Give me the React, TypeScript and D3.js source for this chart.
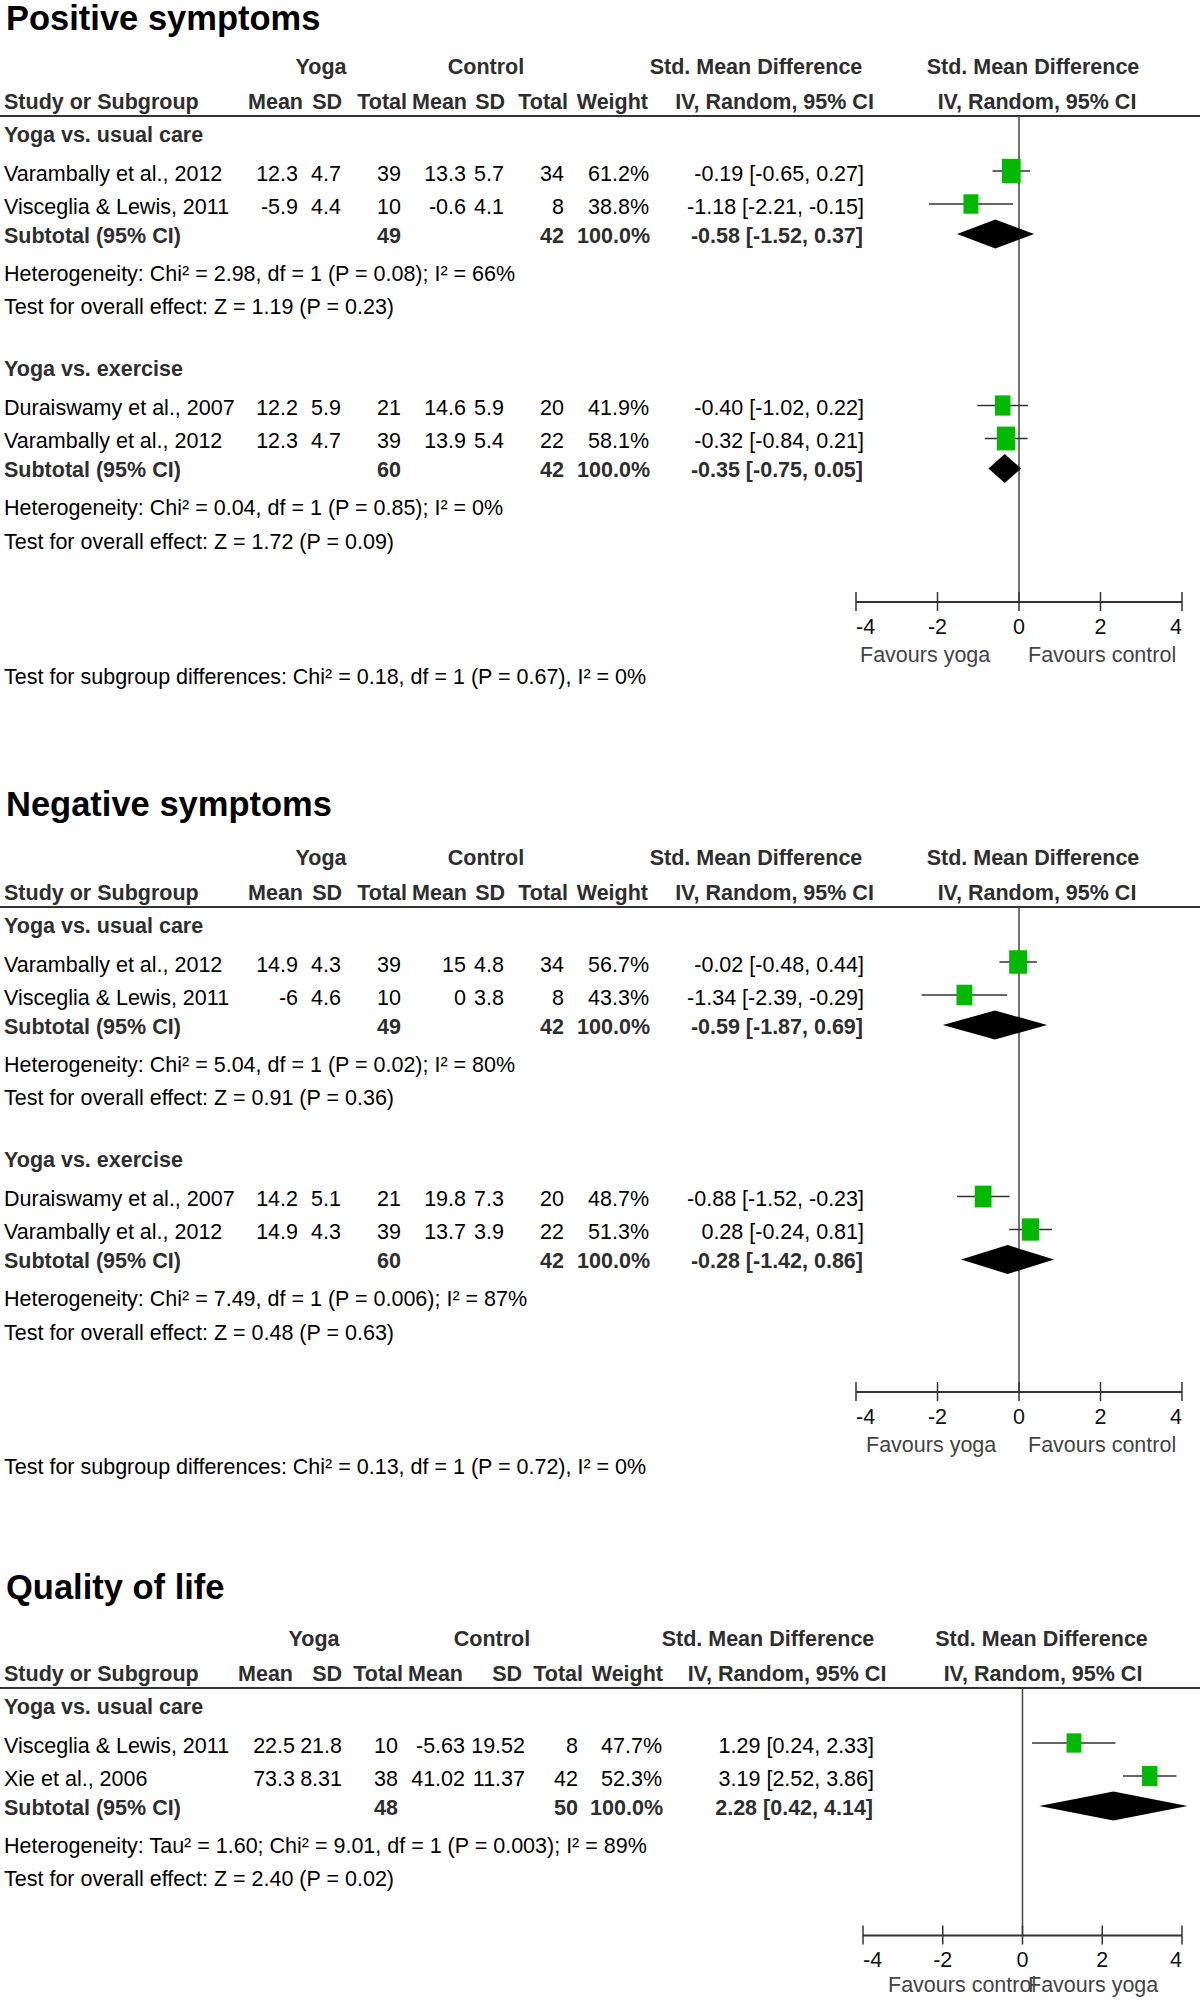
import React from "react";
import * as d3 from "d3";

type Study = { study: string; yMean: number; ySD: number; yN: number; cMean: number; cSD: number; cN: number; weight: number; smd: number; lo: number; hi: number };
type Subtotal = { yN: number; cN: number; weight: number; smd: number; lo: number; hi: number };

// ---------- DATA ----------
const positiveUsualCare: Study[] = [
  { study: "Varambally et al., 2012", yMean: 12.3, ySD: 4.7, yN: 39, cMean: 13.3, cSD: 5.7, cN: 34, weight: 61.2, smd: -0.19, lo: -0.65, hi: 0.27 },
  { study: "Visceglia & Lewis, 2011", yMean: -5.9, ySD: 4.4, yN: 10, cMean: -0.6, cSD: 4.1, cN: 8, weight: 38.8, smd: -1.18, lo: -2.21, hi: -0.15 },
];
const positiveUsualCareTotal: Subtotal = { yN: 49, cN: 42, weight: 100, smd: -0.58, lo: -1.52, hi: 0.37 };
const positiveUsualCareStats = ["Heterogeneity: Chi² = 2.98, df = 1 (P = 0.08); I² = 66%", "Test for overall effect: Z = 1.19 (P = 0.23)"];

const positiveExercise: Study[] = [
  { study: "Duraiswamy et al., 2007", yMean: 12.2, ySD: 5.9, yN: 21, cMean: 14.6, cSD: 5.9, cN: 20, weight: 41.9, smd: -0.40, lo: -1.02, hi: 0.22 },
  { study: "Varambally et al., 2012", yMean: 12.3, ySD: 4.7, yN: 39, cMean: 13.9, cSD: 5.4, cN: 22, weight: 58.1, smd: -0.32, lo: -0.84, hi: 0.21 },
];
const positiveExerciseTotal: Subtotal = { yN: 60, cN: 42, weight: 100, smd: -0.35, lo: -0.75, hi: 0.05 };
const positiveExerciseStats = ["Heterogeneity: Chi² = 0.04, df = 1 (P = 0.85); I² = 0%", "Test for overall effect: Z = 1.72 (P = 0.09)"];
const positiveSubgroupTest = "Test for subgroup differences: Chi² = 0.18, df = 1 (P = 0.67), I² = 0%";

const negativeUsualCare: Study[] = [
  { study: "Varambally et al., 2012", yMean: 14.9, ySD: 4.3, yN: 39, cMean: 15, cSD: 4.8, cN: 34, weight: 56.7, smd: -0.02, lo: -0.48, hi: 0.44 },
  { study: "Visceglia & Lewis, 2011", yMean: -6, ySD: 4.6, yN: 10, cMean: 0, cSD: 3.8, cN: 8, weight: 43.3, smd: -1.34, lo: -2.39, hi: -0.29 },
];
const negativeUsualCareTotal: Subtotal = { yN: 49, cN: 42, weight: 100, smd: -0.59, lo: -1.87, hi: 0.69 };
const negativeUsualCareStats = ["Heterogeneity: Chi² = 5.04, df = 1 (P = 0.02); I² = 80%", "Test for overall effect: Z = 0.91 (P = 0.36)"];

const negativeExercise: Study[] = [
  { study: "Duraiswamy et al., 2007", yMean: 14.2, ySD: 5.1, yN: 21, cMean: 19.8, cSD: 7.3, cN: 20, weight: 48.7, smd: -0.88, lo: -1.52, hi: -0.23 },
  { study: "Varambally et al., 2012", yMean: 14.9, ySD: 4.3, yN: 39, cMean: 13.7, cSD: 3.9, cN: 22, weight: 51.3, smd: 0.28, lo: -0.24, hi: 0.81 },
];
const negativeExerciseTotal: Subtotal = { yN: 60, cN: 42, weight: 100, smd: -0.28, lo: -1.42, hi: 0.86 };
const negativeExerciseStats = ["Heterogeneity: Chi² = 7.49, df = 1 (P = 0.006); I² = 87%", "Test for overall effect: Z = 0.48 (P = 0.63)"];
const negativeSubgroupTest = "Test for subgroup differences: Chi² = 0.13, df = 1 (P = 0.72), I² = 0%";

const qolUsualCare: Study[] = [
  { study: "Visceglia & Lewis, 2011", yMean: 22.5, ySD: 21.8, yN: 10, cMean: -5.63, cSD: 19.52, cN: 8, weight: 47.7, smd: 1.29, lo: 0.24, hi: 2.33 },
  { study: "Xie et al., 2006", yMean: 73.3, ySD: 8.31, yN: 38, cMean: 41.02, cSD: 11.37, cN: 42, weight: 52.3, smd: 3.19, lo: 2.52, hi: 3.86 },
];
const qolUsualCareTotal: Subtotal = { yN: 48, cN: 50, weight: 100, smd: 2.28, lo: 0.42, hi: 4.14 };
const qolUsualCareStats = ["Heterogeneity: Tau² = 1.60; Chi² = 9.01, df = 1 (P = 0.003); I² = 89%", "Test for overall effect: Z = 2.40 (P = 0.02)"];

const axisTicks = [-4, -2, 0, 2, 4];
const axisDomain = [-4, 4];
const favoursPosNeg = ["Favours yoga", "Favours control"];
const favoursQol = ["Favours control", "Favours yoga"];

// ---------- LAYOUT / STYLE ----------
const FONT = "'Liberation Sans', Arial, Helvetica, sans-serif";
const FS = 21.5;
const BOLD_C = "#2e2e2e";
const GREEN = "#00b900";

const colsA = { mean1: 298, sd1: 341, n1: 401, mean2: 466, sd2: 504, n2: 564, weight: 649, ci: 864 };
const headA = { yoga: 321, control: 486, mean1: 303, sd1: 342, n1: 407, mean2: 467, sd2: 505, n2: 568, weight: 648, smd1: 756, iv1: 774.5, smd2: 1033, iv2: 1037 };
const colsB = { mean1: 295, sd1: 342, n1: 398, mean2: 465, sd2: 525, n2: 578, weight: 662, ci: 874 };
const headB = { yoga: 314, control: 492, mean1: 293, sd1: 342, n1: 403, mean2: 463, sd2: 522, n2: 583, weight: 663, smd1: 768, iv1: 787, smd2: 1041.5, iv2: 1043 };

type Group = { label: string; studies: Study[]; total: Subtotal; stats: string[] };
type Panel = {
  title: string; top: number; titleDy: number; axisGap: number; favDy: number;
  groups: Group[]; subgroupTest?: string; favours: string[];
  cols: typeof colsA; head: typeof headA; xRange: [number, number]; favX: [number, number]; sqK: number;
};

const panels: Panel[] = [
  {
    title: "Positive symptoms", top: 0, titleDy: 18, axisGap: 61, favDy: 52,
    groups: [
      { label: "Yoga vs. usual care", studies: positiveUsualCare, total: positiveUsualCareTotal, stats: positiveUsualCareStats },
      { label: "Yoga vs. exercise", studies: positiveExercise, total: positiveExerciseTotal, stats: positiveExerciseStats },
    ],
    subgroupTest: positiveSubgroupTest, favours: favoursPosNeg,
    cols: colsA, head: headA, xRange: [856, 1182], favX: [860, 1028], sqK: 2.4,
  },
  {
    title: "Negative symptoms", top: 791, titleDy: 13, axisGap: 60, favDy: 52,
    groups: [
      { label: "Yoga vs. usual care", studies: negativeUsualCare, total: negativeUsualCareTotal, stats: negativeUsualCareStats },
      { label: "Yoga vs. exercise", studies: negativeExercise, total: negativeExerciseTotal, stats: negativeExerciseStats },
    ],
    subgroupTest: negativeSubgroupTest, favours: favoursPosNeg,
    cols: colsA, head: headA, xRange: [856, 1182], favX: [866, 1028], sqK: 2.4,
  },
  {
    title: "Quality of life", top: 1572, titleDy: 15, axisGap: 57, favDy: 49,
    groups: [
      { label: "Yoga vs. usual care", studies: qolUsualCare, total: qolUsualCareTotal, stats: qolUsualCareStats },
    ],
    favours: favoursQol,
    cols: colsB, head: headB, xRange: [863, 1182], favX: [888, 1028], sqK: 2.15,
  },
];

function Txt(props: { x: number; y: number; anchor?: string; bold?: boolean; color?: string; size?: number; children: React.ReactNode }) {
  const { x, y, anchor = "start", bold = false, color, size = FS, children } = props;
  return (
    <text x={x} y={y + size * 0.35} textAnchor={anchor as any} fontWeight={bold ? "bold" : "normal"}
      fill={color ?? (bold ? BOLD_C : "#000")} fontSize={size} fontFamily={FONT}>
      {children}
    </text>
  );
}

function layout(p: Panel) {
  const line = p.top + 116;
  let cur = line;
  const groups = p.groups.map((g, gi) => {
    cur += gi === 0 ? 18 : 62;
    const labelY = cur;
    const studyYs = g.studies.map((_, i) => { cur += i === 0 ? 39 : 33; return cur; });
    cur += 29; const subY = cur;
    cur += 38; const hetY = cur;
    cur += 33.5; const testY = cur;
    return { labelY, studyYs, subY, hetY, testY };
  });
  const axis = cur + p.axisGap;
  return { line, groups, axis };
}

const f2 = (v: number) => v.toFixed(2);
const ciText = (d: { smd: number; lo: number; hi: number }) => `${f2(d.smd)} [${f2(d.lo)}, ${f2(d.hi)}]`;

function PanelView({ p }: { p: Panel }) {
  const L = layout(p);
  const x = d3.scaleLinear().domain(axisDomain).range(p.xRange);
  const c = p.cols, h = p.head;
  const t = p.top;
  return (
    <g>
      <Txt x={6} y={t + p.titleDy} bold color="#000" size={34.5}>{p.title}</Txt>
      <Txt x={h.yoga} y={t + 66} anchor="middle" bold>Yoga</Txt>
      <Txt x={h.control} y={t + 66} anchor="middle" bold>Control</Txt>
      <Txt x={h.smd1} y={t + 66} anchor="middle" bold>Std. Mean Difference</Txt>
      <Txt x={h.smd2} y={t + 66} anchor="middle" bold>Std. Mean Difference</Txt>
      <Txt x={4} y={t + 101} bold>Study or Subgroup</Txt>
      <Txt x={h.mean1} y={t + 101} anchor="end" bold>Mean</Txt>
      <Txt x={h.sd1} y={t + 101} anchor="end" bold>SD</Txt>
      <Txt x={h.n1} y={t + 101} anchor="end" bold>Total</Txt>
      <Txt x={h.mean2} y={t + 101} anchor="end" bold>Mean</Txt>
      <Txt x={h.sd2} y={t + 101} anchor="end" bold>SD</Txt>
      <Txt x={h.n2} y={t + 101} anchor="end" bold>Total</Txt>
      <Txt x={h.weight} y={t + 101} anchor="end" bold>Weight</Txt>
      <Txt x={h.iv1} y={t + 101} anchor="middle" bold>IV, Random, 95% CI</Txt>
      <Txt x={h.iv2} y={t + 101} anchor="middle" bold>IV, Random, 95% CI</Txt>
      <line x1={0} x2={1200} y1={L.line} y2={L.line} stroke="#333" strokeWidth={2} />
      <line x1={x(0)} x2={x(0)} y1={L.line} y2={L.axis} stroke="#444" strokeWidth={1.5} />

      {p.groups.map((g, gi) => {
        const G = L.groups[gi];
        return (
          <g key={gi}>
            <Txt x={4} y={G.labelY} bold>{g.label}</Txt>
            {g.studies.map((s, i) => {
              const y = G.studyYs[i];
              const w = p.sqK * Math.sqrt(s.weight);
              const hh = w * 1.3;
              const my = y - 2;
              return (
                <g key={i}>
                  <Txt x={4} y={y}>{s.study}</Txt>
                  <Txt x={c.mean1} y={y} anchor="end">{String(s.yMean)}</Txt>
                  <Txt x={c.sd1} y={y} anchor="end">{String(s.ySD)}</Txt>
                  <Txt x={c.n1} y={y} anchor="end">{String(s.yN)}</Txt>
                  <Txt x={c.mean2} y={y} anchor="end">{String(s.cMean)}</Txt>
                  <Txt x={c.sd2} y={y} anchor="end">{String(s.cSD)}</Txt>
                  <Txt x={c.n2} y={y} anchor="end">{String(s.cN)}</Txt>
                  <Txt x={c.weight} y={y} anchor="end">{s.weight.toFixed(1) + "%"}</Txt>
                  <Txt x={c.ci} y={y} anchor="end">{ciText(s)}</Txt>
                  <line x1={x(s.lo)} x2={x(s.hi)} y1={my} y2={my} stroke="#333" strokeWidth={1.5} />
                  <rect x={x(s.smd) - w / 2} y={my - hh / 2} width={w} height={hh} fill={GREEN} />
                </g>
              );
            })}
            <Txt x={4} y={G.subY} bold>Subtotal (95% CI)</Txt>
            <Txt x={c.n1} y={G.subY} anchor="end" bold>{String(g.total.yN)}</Txt>
            <Txt x={c.n2} y={G.subY} anchor="end" bold>{String(g.total.cN)}</Txt>
            <Txt x={c.weight + 1} y={G.subY} anchor="end" bold>{g.total.weight.toFixed(1) + "%"}</Txt>
            <Txt x={c.ci - 1} y={G.subY} anchor="end" bold>{ciText(g.total)}</Txt>
            <path
              d={d3.line()([
                [x(g.total.lo), G.subY - 1],
                [x(g.total.smd), G.subY - 15.5],
                [x(g.total.hi), G.subY - 1],
                [x(g.total.smd), G.subY + 13.5],
              ]) + "Z"}
              fill="#000"
            />
            <Txt x={4} y={G.hetY}>{g.stats[0]}</Txt>
            <Txt x={4} y={G.testY}>{g.stats[1]}</Txt>
          </g>
        );
      })}

      <line x1={x(axisDomain[0])} x2={x(axisDomain[1])} y1={L.axis} y2={L.axis} stroke="#333" strokeWidth={2} />
      {axisTicks.map((v, i) => (
        <g key={v}>
          <line x1={x(v)} x2={x(v)} y1={L.axis - 10} y2={L.axis + 9} stroke="#333" strokeWidth={1.5} />
          <Txt x={x(v)} y={L.axis + 24}
            anchor={i === 0 ? "start" : i === axisTicks.length - 1 ? "end" : "middle"} color="#111">{String(v)}</Txt>
        </g>
      ))}
      <Txt x={p.favX[0]} y={L.axis + p.favDy} color="#444">{p.favours[0]}</Txt>
      <Txt x={p.favX[1]} y={L.axis + p.favDy} color="#444">{p.favours[1]}</Txt>
      {p.subgroupTest && <Txt x={4} y={L.axis + 74}>{p.subgroupTest}</Txt>}
    </g>
  );
}

export default function App() {
  return (
    <svg width={1200} height={2000} viewBox="0 0 1200 2000"
      style={{ position: "absolute", left: 0, top: 0, background: "#fff", display: "block" }}>
      <rect x={0} y={0} width={1200} height={2000} fill="#fff" />
      {panels.map((p, i) => <PanelView key={i} p={p} />)}
    </svg>
  );
}
